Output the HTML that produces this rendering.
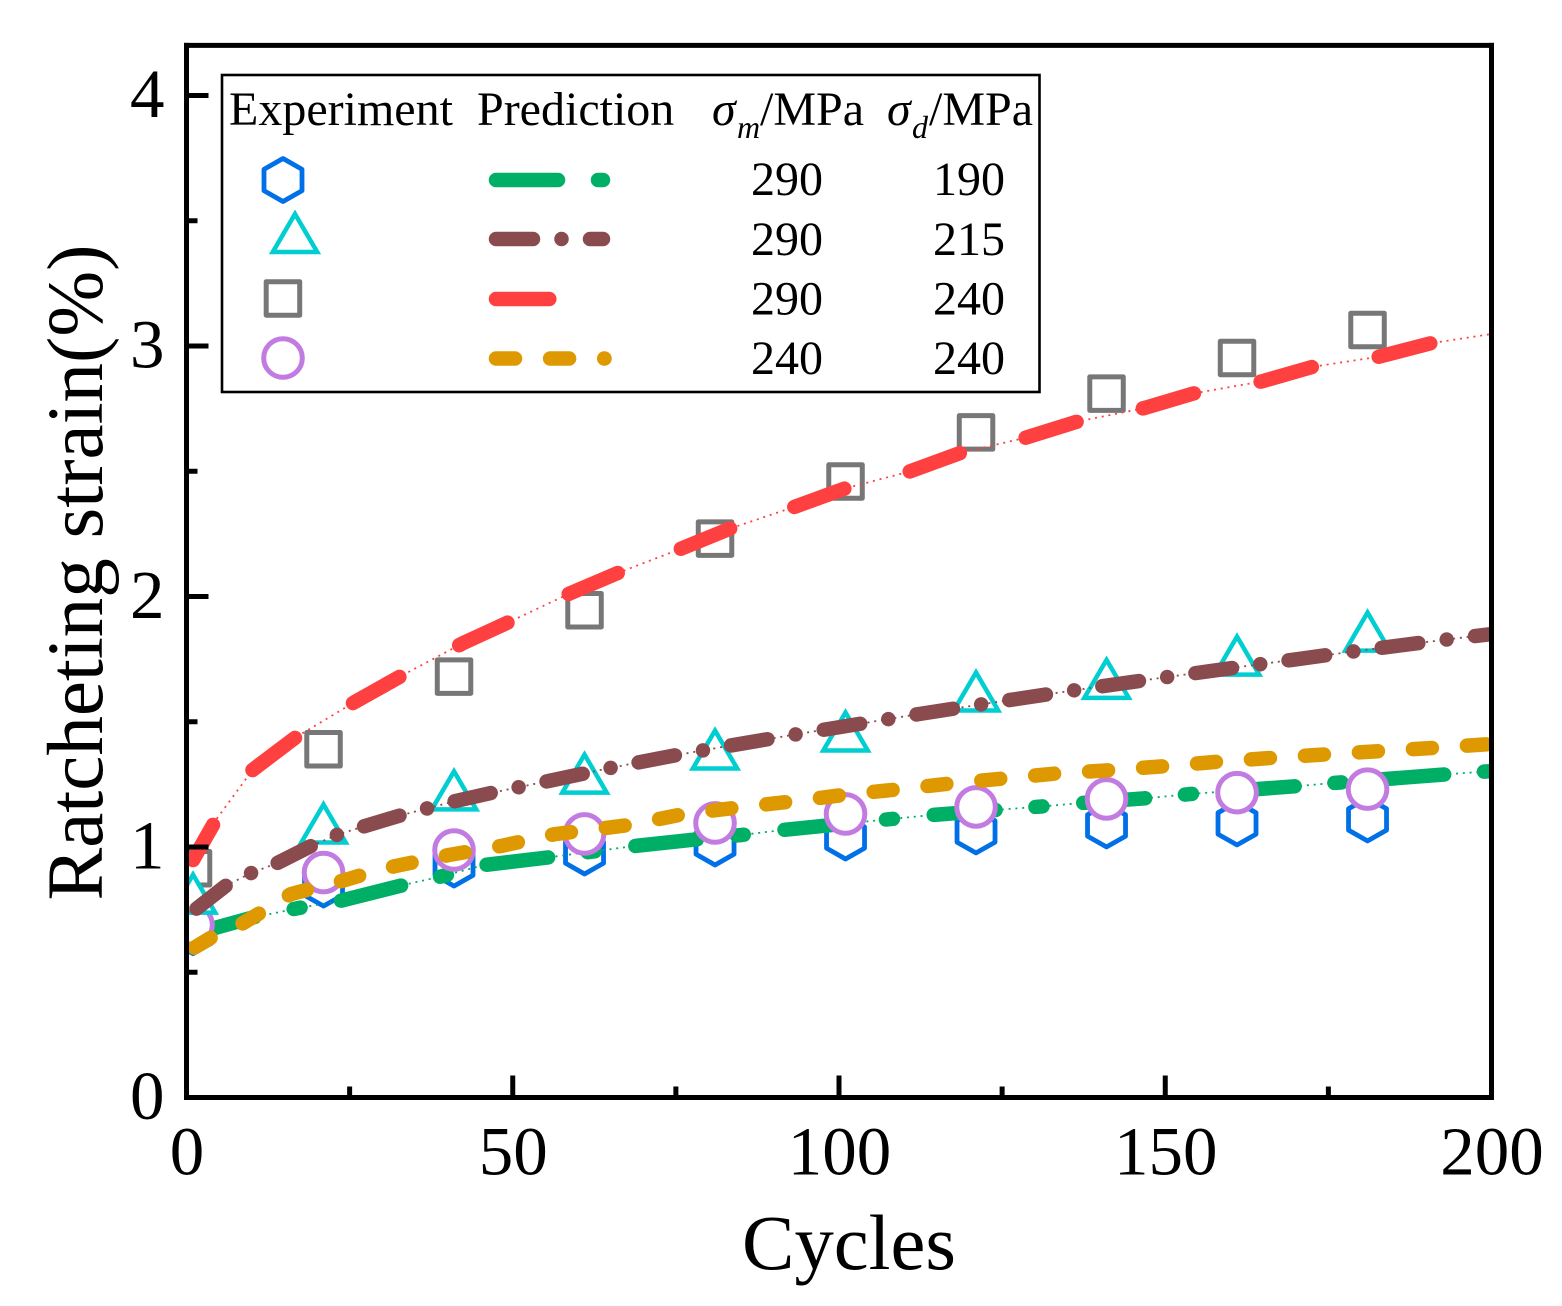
<!DOCTYPE html>
<html lang="en">
<head>
<meta charset="utf-8">
<title>Ratcheting strain vs cycles</title>
<style>
  html, body { margin: 0; padding: 0; background: #ffffff; }
  svg { display: block; }
  text { font-family: "Liberation Serif", "DejaVu Serif", serif; fill: #000000; }
</style>
</head>
<body>
<svg id="chart" xmlns="http://www.w3.org/2000/svg" width="1562" height="1306" viewBox="0 0 1562 1306">
  <defs>
    <clipPath id="plot-clip"><rect x="186.5" y="45.5" width="1305" height="1052"/></clipPath>
  </defs>
  <rect x="0" y="0" width="1562" height="1306" fill="#ffffff"/>
  <g id="data-layer" clip-path="url(#plot-clip)"></g>
  <g id="axes-layer"></g>

  <text x="849" y="1269" font-size="78.6" text-anchor="middle">Cycles</text>
  <text transform="translate(102,572.5) rotate(-90)" font-size="79" text-anchor="middle">Ratcheting strain(%)</text>

  <g>
    <rect x="222" y="75" width="817.5" height="317" fill="#ffffff" stroke="#000000" stroke-width="2.6"/>
    <text x="229" y="125" font-size="48">Experiment</text>
    <text x="477" y="125" font-size="48">Prediction</text>
    <g>
      <text x="712" y="125" font-size="48" font-style="italic">σ</text>
      <text x="737" y="138" font-size="32" font-style="italic">m</text>
      <text x="760" y="125" font-size="48">/MPa</text>
    </g>
    <g>
      <text x="887" y="125" font-size="48" font-style="italic">σ</text>
      <text x="912" y="138" font-size="32" font-style="italic">d</text>
      <text x="929" y="125" font-size="48">/MPa</text>
    </g>

    <polygon points="283,158.5 302,169.3 302,190.7 283,201.5 264,190.7 264,169.3" fill="#ffffff" stroke="#0070E8" stroke-width="4.8" stroke-linejoin="round"/>
    <polygon points="295,214 317.2,252 272.8,252" fill="#ffffff" stroke="#00CED1" stroke-width="4.5"/>
    <rect x="266.2" y="281.7" width="33.5" height="33.5" fill="#ffffff" stroke="#777777" stroke-width="5" stroke-linejoin="round"/>
    <circle cx="283" cy="358" r="19.3" fill="#ffffff" stroke="#C27BE0" stroke-width="5"/>

    <line x1="496" y1="180" x2="603" y2="180" stroke="#00AF66" stroke-width="14.5" stroke-linecap="round" stroke-dasharray="62 40 7 41"/>
    <line x1="496" y1="239" x2="603" y2="239" stroke="#8A4B4E" stroke-width="14.5" stroke-linecap="round" stroke-dasharray="37 28.5 0.01 28.49"/>
    <line x1="496" y1="299" x2="603" y2="299" stroke="#FF4040" stroke-width="14.5" stroke-linecap="round" stroke-dasharray="53.3 67.6"/>
    <line x1="496" y1="358.5" x2="604.5" y2="358.5" stroke="#DE9900" stroke-width="14.5" stroke-linecap="round" stroke-dasharray="19 35.1"/>

    <text x="751" y="195" font-size="48">290</text>
    <text x="933" y="195" font-size="48">190</text>
    <text x="751" y="255" font-size="48">290</text>
    <text x="933" y="255" font-size="48">215</text>
    <text x="751" y="314.5" font-size="48">290</text>
    <text x="933" y="314.5" font-size="48">240</text>
    <text x="751" y="374" font-size="48">240</text>
    <text x="933" y="374" font-size="48">240</text>
  </g>
</svg>

<script>
// ---- chart data ----
const xTickLabels = [0, 50, 100, 150, 200];
const xMinorTicks = [25, 75, 125, 175];
const yTickLabels = [0, 1, 2, 3, 4];
const yMinorTicks = [0.5, 1.5, 2.5, 3.5];

const markerCycles = [1, 21, 41, 61, 81, 101, 121, 141, 161, 181];
const hexagonStrain = [0.66, 0.85, 0.93, 0.978, 1.014, 1.038, 1.062, 1.086, 1.094, 1.11];
const triangleStrain = [0.818, 1.098, 1.23, 1.297, 1.393, 1.465, 1.625, 1.675, 1.768, 1.864];
const squareStrain = [0.915, 1.39, 1.68, 1.945, 2.231, 2.459, 2.655, 2.81, 2.952, 3.064];
const circleStrain = [0.689, 0.898, 0.988, 1.052, 1.096, 1.132, 1.16, 1.192, 1.217, 1.231];

const greenCycles = [1, 4.4, 10.2, 13.1, 17.1, 23.4, 33.2, 39.3, 45.6, 55.9, 68.7, 78.7, 85.1, 91.4, 108.1, 114.4, 131.1, 137.4, 147.7, 154.1, 170.7, 176, 193.6, 200];
const greenStrain = [0.625, 0.677, 0.719, 0.734, 0.756, 0.784, 0.848, 0.884, 0.928, 0.96, 1.004, 1.032, 1.048, 1.068, 1.112, 1.128, 1.162, 1.176, 1.196, 1.212, 1.244, 1.256, 1.291, 1.303];

const brownCycles = [0.95, 6.05, 9.9, 14, 19.1, 23.1, 27.4, 32.9, 41.3, 46.9, 55.4, 65.2, 75.1, 83.8, 93.7, 103.7, 112.3, 122.2, 132.3, 140.9, 150.7, 160.7, 169.4, 179.2, 189.3, 200];
const brownStrain = [0.742, 0.846, 0.896, 0.937, 1.004, 1.049, 1.084, 1.127, 1.184, 1.217, 1.263, 1.317, 1.367, 1.407, 1.451, 1.494, 1.531, 1.571, 1.611, 1.644, 1.68, 1.716, 1.747, 1.782, 1.816, 1.85];

const redCycles = [1, 4.5, 10.1, 16.8, 25.8, 32.9, 42.4, 49.4, 58.9, 66.1, 75.9, 83.4, 93.2, 101, 110.7, 118.5, 128.6, 136.5, 146.6, 154.4, 164.7, 172.6, 182.7, 190.7, 200];
const redStrain = [0.948, 1.108, 1.307, 1.439, 1.579, 1.683, 1.814, 1.898, 2.014, 2.094, 2.192, 2.272, 2.358, 2.432, 2.498, 2.572, 2.634, 2.698, 2.751, 2.811, 2.858, 2.917, 2.957, 3.011, 3.048];

const orangeCycles = [1, 4, 8.6, 11.4, 16, 19.3, 23.9, 27.2, 32, 40.2, 48.2, 56.4, 67.9, 76.1, 84.3, 92.5, 100.7, 109, 117.2, 125.4, 133.5, 141.8, 150.1, 158.3, 166.5, 174.7, 183, 191.3, 200];
const orangeStrain = [0.595, 0.642, 0.695, 0.739, 0.812, 0.835, 0.865, 0.891, 0.924, 0.968, 1.004, 1.051, 1.088, 1.131, 1.157, 1.181, 1.208, 1.23, 1.254, 1.274, 1.294, 1.307, 1.323, 1.341, 1.356, 1.37, 1.383, 1.396, 1.411];

// ---- axis functions ----
const SVG_NS = 'http://www.w3.org/2000/svg';
const X_ZERO = 186.5, X_SCALE = 6.525, Y_ZERO = 1097.5, Y_SCALE = 250.5;
function xPos(cycle) { return X_ZERO + cycle * X_SCALE; }
function yPos(strain) { return Y_ZERO - strain * Y_SCALE; }

const dataLayer = document.getElementById('data-layer');
const axesLayer = document.getElementById('axes-layer');

function pointsFor(cycles, strain) {
  return cycles.map(function (c, i) { return xPos(c).toFixed(2) + ',' + yPos(strain[i]).toFixed(2); }).join(' ');
}

function drawThinLine(cycles, strain, color, name) {
  const el = document.createElementNS(SVG_NS, 'polyline');
  
  
  el.setAttribute('points', pointsFor(cycles, strain));
  el.setAttribute('fill', 'none');
  el.setAttribute('stroke', color);
  el.setAttribute('stroke-width', '1.8');
  el.setAttribute('stroke-dasharray', '2 4.8');
  dataLayer.appendChild(el);
}

function drawThickLine(cycles, strain, color, dash, offset, name) {
  const el = document.createElementNS(SVG_NS, 'polyline');
  
  
  el.setAttribute('points', pointsFor(cycles, strain));
  el.setAttribute('fill', 'none');
  el.setAttribute('stroke', color);
  el.setAttribute('stroke-width', '14.5');
  el.setAttribute('stroke-linecap', 'round');
  el.setAttribute('stroke-linejoin', 'round');
  el.setAttribute('stroke-dasharray', dash);
  el.setAttribute('stroke-dashoffset', offset);
  dataLayer.appendChild(el);
}

function drawSquares(cycles, strain) {
  cycles.forEach(function (c, i) {
    const el = document.createElementNS(SVG_NS, 'rect');
    
    
    el.setAttribute('x', xPos(c) - 16.75);
    el.setAttribute('y', yPos(strain[i]) - 16.75);
    el.setAttribute('width', 33.5);
    el.setAttribute('height', 33.5);
    el.setAttribute('fill', '#ffffff');
    el.setAttribute('stroke', '#777777');
    el.setAttribute('stroke-width', '5');
    el.setAttribute('stroke-linejoin', 'round');
    dataLayer.appendChild(el);
  });
}

function drawTriangles(cycles, strain) {
  cycles.forEach(function (c, i) {
    const cx = xPos(c), cy = yPos(strain[i]);
    const el = document.createElementNS(SVG_NS, 'polygon');
    
    
    el.setAttribute('points', cx + ',' + (cy - 18) + ' ' + (cx + 22.2) + ',' + (cy + 20) + ' ' + (cx - 22.2) + ',' + (cy + 20));
    el.setAttribute('fill', '#ffffff');
    el.setAttribute('stroke', '#00CED1');
    el.setAttribute('stroke-width', '4.5');
    dataLayer.appendChild(el);
  });
}

function drawHexagons(cycles, strain) {
  cycles.forEach(function (c, i) {
    const cx = xPos(c), cy = yPos(strain[i]);
    const pts = [[0, -21.5], [19, -10.7], [19, 10.7], [0, 21.5], [-19, 10.7], [-19, -10.7]];
    const el = document.createElementNS(SVG_NS, 'polygon');
    
    
    el.setAttribute('points', pts.map(function (p) { return (cx + p[0]) + ',' + (cy + p[1]); }).join(' '));
    el.setAttribute('fill', '#ffffff');
    el.setAttribute('stroke', '#0070E8');
    el.setAttribute('stroke-width', '4.8');
    el.setAttribute('stroke-linejoin', 'round');
    dataLayer.appendChild(el);
  });
}

function drawCircles(cycles, strain) {
  cycles.forEach(function (c, i) {
    const el = document.createElementNS(SVG_NS, 'circle');
    
    
    el.setAttribute('cx', xPos(c));
    el.setAttribute('cy', yPos(strain[i]));
    el.setAttribute('r', 19.3);
    el.setAttribute('fill', '#ffffff');
    el.setAttribute('stroke', '#C27BE0');
    el.setAttribute('stroke-width', '5');
    dataLayer.appendChild(el);
  });
}

function axisLine(x1, y1, x2, y2, name) {
  const el = document.createElementNS(SVG_NS, 'line');
  
  
  el.setAttribute('x1', x1);
  el.setAttribute('y1', y1);
  el.setAttribute('x2', x2);
  el.setAttribute('y2', y2);
  el.setAttribute('stroke', '#000000');
  el.setAttribute('stroke-width', '5');
  axesLayer.appendChild(el);
}

function tickText(x, y, label, anchor, name) {
  const el = document.createElementNS(SVG_NS, 'text');
  
  
  el.setAttribute('x', x);
  el.setAttribute('y', y);
  el.setAttribute('font-size', '69');
  el.setAttribute('text-anchor', anchor);
  el.textContent = String(label);
  axesLayer.appendChild(el);
}

// ---- draw order: each experiment with its prediction ----
drawSquares(markerCycles, squareStrain);
drawThinLine(redCycles, redStrain, '#FF4040', 'red-fit-dotted-line');
drawThickLine(redCycles, redStrain, '#FF4040', '53.3 67.64', '12.9', 'red-prediction-line');

drawHexagons(markerCycles, hexagonStrain);
drawThinLine(greenCycles, greenStrain, '#00AF66', 'green-fit-dotted-line');
drawThickLine(greenCycles, greenStrain, '#00AF66', '62 40 7 41', '-4.5', 'green-prediction-line');

drawCircles(markerCycles, circleStrain);
drawThickLine(orangeCycles, orangeStrain, '#DE9900', '19 35.1', '-1.5', 'orange-prediction-line');

drawTriangles(markerCycles, triangleStrain);
drawThinLine(brownCycles, brownStrain, '#8A4B4E', 'brown-fit-dotted-line');
drawThickLine(brownCycles, brownStrain, '#8A4B4E', '37 28.5 0.01 28.49', '-4.8', 'brown-prediction-line');

// ---- axes ----
const X_MIN = 0, X_MAX = 200, Y_MIN = 0, Y_MAX = 4.2;
axisLine(xPos(X_MIN), yPos(Y_MAX) - 2.5, xPos(X_MIN), yPos(Y_MIN) + 2.5, 'y-axis-line');
axisLine(xPos(X_MAX), yPos(Y_MAX) - 2.5, xPos(X_MAX), yPos(Y_MIN) + 2.5, 'right-border-line');
axisLine(xPos(X_MIN) - 2.5, yPos(Y_MIN), xPos(X_MAX) + 2.5, yPos(Y_MIN), 'x-axis-line');
axisLine(xPos(X_MIN) - 2.5, yPos(Y_MAX), xPos(X_MAX) + 2.5, yPos(Y_MAX), 'top-border-line');

xTickLabels.forEach(function (v) {
  axisLine(xPos(v), yPos(0), xPos(v), yPos(0) - 22, 'x-major-tick');
  tickText(xPos(v) + 0.5, 1174.5, v, 'middle', 'x-tick-label');
});
xMinorTicks.forEach(function (v) {
  axisLine(xPos(v), yPos(0), xPos(v), yPos(0) - 11, 'x-minor-tick');
});
yTickLabels.forEach(function (v) {
  axisLine(xPos(0), yPos(v), xPos(0) + 22, yPos(v), 'y-major-tick');
  tickText(164.5, yPos(v) + 21.5, v, 'end', 'y-tick-label');
});
yMinorTicks.forEach(function (v) {
  axisLine(xPos(0), yPos(v), xPos(0) + 11, yPos(v), 'y-minor-tick');
});
</script>
</body>
</html>
